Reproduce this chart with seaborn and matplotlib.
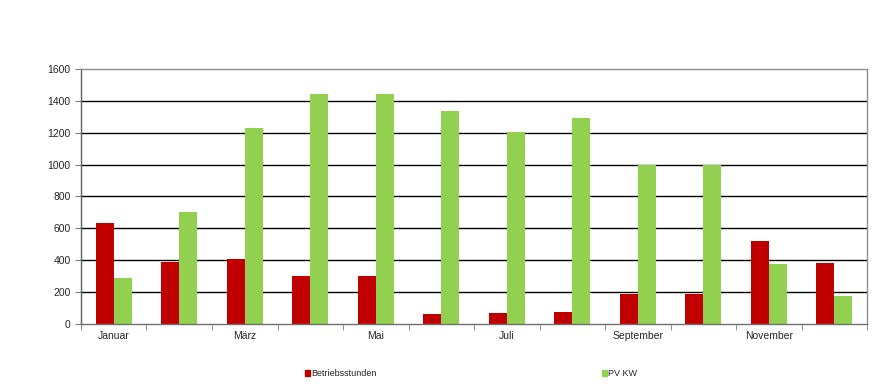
import pandas as pd
import seaborn as sns
import matplotlib.pyplot as plt
from matplotlib.patches import Rectangle

months = ['Januar', 'Februar', 'März', 'April', 'Mai', 'Juni', 'Juli',
          'August', 'September', 'Oktober', 'November', 'Dezember']
betriebsstunden = [635, 392, 408, 300, 300, 65, 70, 78, 187, 187, 522, 382]
pv_kw = [291, 700, 1230, 1442, 1442, 1338, 1205, 1290, 1000, 1000, 377, 176]
series = ['Betriebsstunden', 'PV KW']
colors = ['#C00000', '#92D050']

df = pd.DataFrame({'Monat': months, series[0]: betriebsstunden, series[1]: pv_kw})
df_melt = df.melt(id_vars='Monat', var_name='Serie', value_name='Wert')

sns.set_style('white')
plt.rcParams['font.family'] = ['Liberation Sans', 'DejaVu Sans']

fig = plt.figure(figsize=(8.89, 3.91), dpi=100)
ax = fig.add_axes([0.0911, 0.1714, 0.8842, 0.6521])
sns.barplot(data=df_melt, x='Monat', y='Wert', hue='Serie', order=months,
            hue_order=series, palette=colors, width=0.55, gap=0,
            saturation=1, linewidth=0, legend=False, ax=ax)

ax.set_xlim(-0.5, len(months) - 0.5)
ax.set_ylim(0, 1600)
ax.set_yticks(range(0, 1601, 200))
ax.yaxis.grid(True, color='black', linewidth=1)
ax.set_axisbelow(True)
for i, gl in enumerate(ax.get_ygridlines()):
    if i in (0, len(ax.get_ygridlines()) - 1):
        gl.set_visible(False)

ax.set_xticks(range(len(months)))
ax.set_xticklabels([m if i % 2 == 0 else '' for i, m in enumerate(months)])
ax.set_xticks([i - 0.5 for i in range(len(months) + 1)], minor=True)
ax.tick_params(axis='x', which='major', length=0, labelsize=7.5, pad=5)
ax.tick_params(axis='x', which='minor', length=4, color='#808080', direction='out', bottom=True)
ax.tick_params(axis='y', length=4, color='#808080', labelsize=7.5, left=True, direction='out')
ax.set_xlabel('')
ax.set_ylabel('')
for s in ax.spines.values():
    s.set_color('#909090')
    s.set_linewidth(1)
ax.spines['left'].set_color('#606060')
ax.spines['bottom'].set_color('#707070')

handles = [Rectangle((0, 0), 1, 1, color=c) for c in colors]
fig.legend(handles, series, loc='lower left', bbox_to_anchor=(0.334, 0.012), ncol=2,
           frameon=False, fontsize=6.5, handlelength=0.6, handleheight=0.6,
           handletextpad=0.1, columnspacing=24.9)

fig.savefig('out.png', dpi=100)
